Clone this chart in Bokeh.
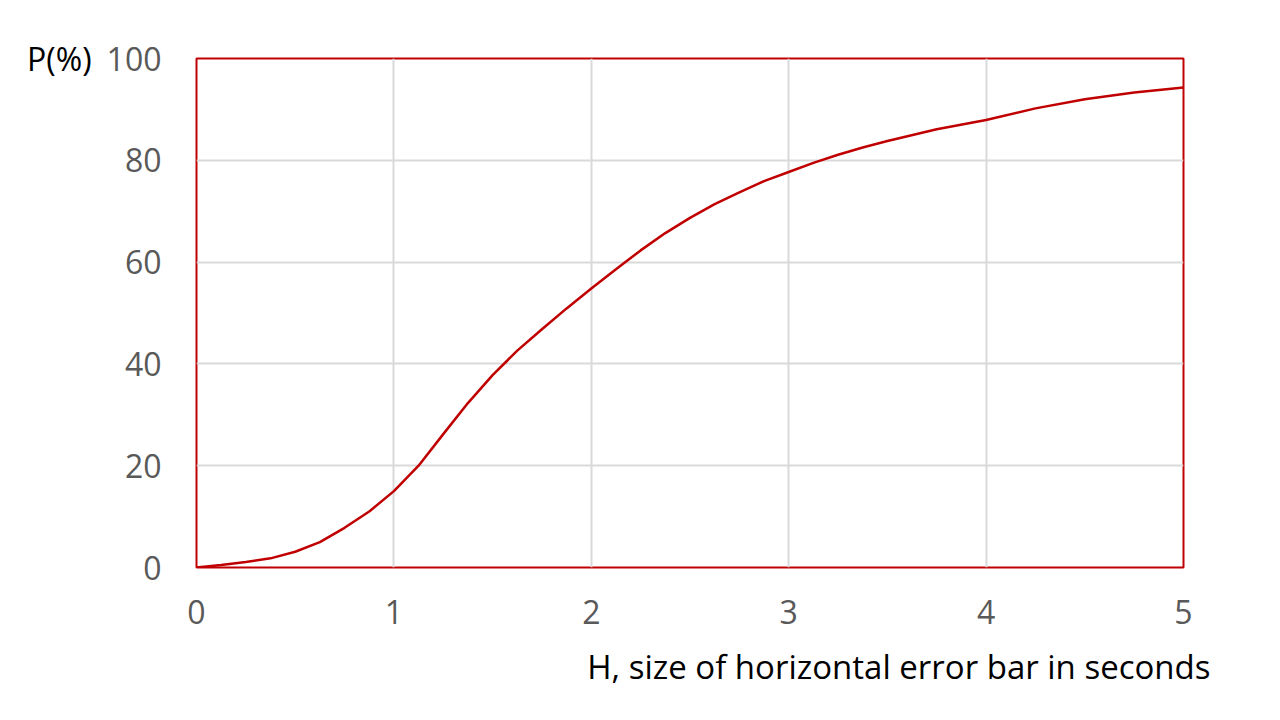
from bokeh.plotting import figure
from bokeh.models import FixedTicker, Title
from bokeh.embed import file_html
from bokeh.resources import INLINE

# Data
h_seconds = [0, 0.125, 0.25, 0.375, 0.5, 0.625, 0.75, 0.875, 1.0,
             1.125, 1.25, 1.375, 1.5, 1.625, 1.75, 1.875, 2.0,
             2.125, 2.25, 2.375, 2.5, 2.625, 2.75, 2.875, 3.0,
             3.125, 3.25, 3.375, 3.5, 3.75, 4.0, 4.25, 4.5, 4.75, 5.0]
p_percent = [0, 0.5, 1.1, 1.8, 3.1, 5.0, 7.8, 11.0, 15.0,
             20.0, 26.2, 32.3, 37.8, 42.6, 46.8, 50.9, 54.8,
             58.6, 62.3, 65.7, 68.7, 71.4, 73.7, 75.9, 77.7,
             79.5, 81.1, 82.5, 83.8, 86.1, 87.9, 90.2, 92.0, 93.3, 94.3]
x_ticks = [0, 1, 2, 3, 4, 5]
y_ticks = [0, 20, 40, 60, 80, 100]
y_title = "P(%)"
x_title = "H, size of horizontal error bar in seconds"

RED = "#c00000"
FONT = "Open Sans"

p = figure(width=1264, height=704, output_backend="svg", toolbar_location=None,
           x_range=(0, 5), y_range=(0, 100),
           min_border_left=196, min_border_right=81,
           min_border_top=58, min_border_bottom=128)

p.line(h_seconds, p_percent, line_color=RED, line_width=2.5)

p.outline_line_color = RED
p.outline_line_width = 2
p.background_fill_color = "white"
p.border_fill_color = "white"

for ax in (p.xaxis, p.yaxis):
    ax.axis_line_color = None
    ax.major_tick_line_color = None
    ax.minor_tick_line_color = None
    ax.major_label_text_color = "#595959"
    ax.major_label_text_font = FONT
    ax.major_label_text_font_size = "32px"
    ax.axis_label_text_font = FONT
    ax.axis_label_text_font_style = "normal"
    ax.axis_label_text_color = "black"

p.xaxis.ticker = FixedTicker(ticks=x_ticks)
p.yaxis.ticker = FixedTicker(ticks=y_ticks)
p.xaxis.major_label_standoff = 26
p.yaxis.major_label_standoff = 29

p.add_layout(Title(text=x_title, align="right", offset=-27, standoff=31,
                   text_font=FONT, text_font_size="33px",
                   text_font_style="normal", text_color="black"), "below")

p.yaxis.axis_label = y_title
p.yaxis.axis_label_text_font_size = "32px"
p.yaxis.axis_label_orientation = "horizontal"
p.yaxis.axis_label_align = "end"
p.yaxis.axis_label_standoff = 12

p.xgrid.ticker = FixedTicker(ticks=x_ticks)
p.ygrid.ticker = FixedTicker(ticks=y_ticks)
p.grid.grid_line_color = "#d9d9d9"
p.grid.grid_line_width = 2

open("out.html", "w").write(file_html(p, INLINE))
